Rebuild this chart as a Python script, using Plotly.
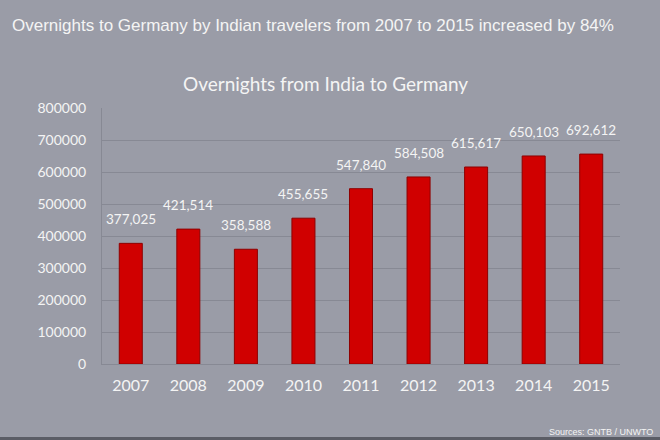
import plotly.graph_objects as go

years = ["2007", "2008", "2009", "2010", "2011", "2012", "2013", "2014", "2015"]
# bar heights as drawn in the picture
overnights = [377025, 421514, 358588, 455655, 547840, 584508, 615617, 650103, 656000]
# value labels as printed in the picture
value_labels = ["377,025", "421,514", "358,588", "455,655", "547,840",
                "584,508", "615,617", "650,103", "692,612"]
y_ticks = [0, 100000, 200000, 300000, 400000, 500000, 600000, 700000, 800000]

BG = "#9a9ca7"
TXT = "#f4f4f4"
GRID = "#878994"

W, H = 660, 440
L, R, T, B = 102, 40, 108, 76
PH = H - T - B
PW = W - L - R

fig = go.Figure()
fig.add_trace(go.Bar(
    x=years, y=overnights,
    marker=dict(color="#d00000", line=dict(color="#8e0000", width=1)),
    width=0.4, hoverinfo="x+y",
))

# category axis: annotations placed by category index
for i, (v, lab) in enumerate(zip(overnights, value_labels)):
    fig.add_annotation(x=i, y=v, text=lab, showarrow=False, yshift=24,
                       font=dict(family="Lato, Carlito, sans-serif", size=13.5, color=TXT))

fig.add_annotation(xref="paper", yref="paper", x=-L / PW, y=1 + (T - 25) / PH,
                   text="Overnights to Germany by Indian travelers from 2007 to 2015 increased by 84%",
                   showarrow=False, xanchor="left", yanchor="middle", xshift=10,
                   font=dict(family="Liberation Sans, Arial, sans-serif", size=17, color=TXT))
fig.add_annotation(xref="paper", yref="paper", x=(325 - L) / PW, y=1 + (T - 83) / PH,
                   text="Overnights from India to Germany", showarrow=False,
                   xanchor="center", yanchor="middle",
                   font=dict(family="Lato, Carlito, sans-serif", size=19, color=TXT))
fig.add_annotation(xref="paper", yref="paper", x=(655 - L) / PW, y=-(432 - (H - B)) / PH,
                   text="Sources: GNTB / UNWTO", showarrow=False,
                   xanchor="right", yanchor="middle",
                   font=dict(family="Liberation Sans Narrow, Liberation Sans, sans-serif", size=9, color=TXT))

fig.add_shape(type="rect", xref="paper", yref="paper", x0=-L / PW - 0.01, x1=1 + R / PW + 0.01,
              y0=-B / PH, y1=-(B - 3) / PH,
              fillcolor="#5b5d66", line=dict(width=0), layer="above")

fig.update_layout(
    width=W, height=H,
    margin=dict(l=L, r=R, t=T, b=B, pad=0),
    paper_bgcolor=BG, plot_bgcolor=BG,
    showlegend=False,
    xaxis=dict(type="category", showgrid=False, showline=True, linecolor=GRID, ticks="",
               range=[-0.5, len(years) - 0.5],
               tickfont=dict(family="Lato, Carlito, sans-serif", size=16, color=TXT),
               ticklabelstandoff=7),
    yaxis=dict(range=[0, 800000], tickvals=y_ticks, ticktext=[str(t) for t in y_ticks],
               showgrid=True, gridcolor=GRID, gridwidth=1, showline=True, linecolor=GRID,
               zeroline=False, ticks="",
               tickfont=dict(family="Lato, Carlito, sans-serif", size=14, color=TXT),
               ticklabelstandoff=12),
    bargap=0.6,
)

fig.write_html("out.html", config={"displayModeBar": False})

with open("out.html", "r", encoding="utf-8") as f:
    html = f.read()
html = html.replace("<body>", '<body style="margin:0;padding:0;overflow:hidden">', 1)
with open("out.html", "w", encoding="utf-8") as f:
    f.write(html)
